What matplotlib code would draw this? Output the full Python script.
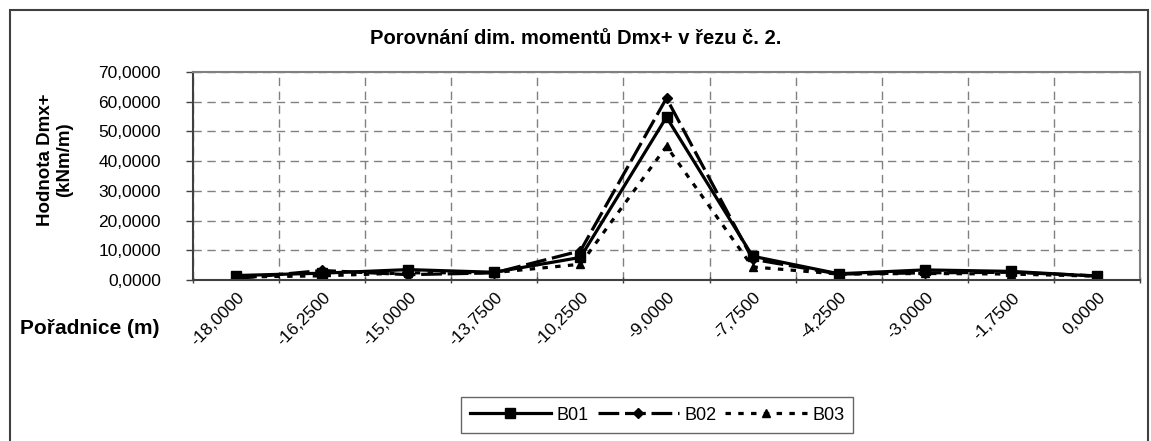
import numpy as np
import matplotlib.pyplot as plt
import matplotlib.transforms as mtransforms
from matplotlib.patches import Rectangle

plt.rcParams['font.family'] = ['Liberation Sans', 'DejaVu Sans']

# data (kNm/m)
poradnice = ['-18,0000', '-16,2500', '-15,0000', '-13,7500', '-10,2500', '-9,0000',
             '-7,7500', '-4,2500', '-3,0000', '-1,7500', '0,0000']
b01 = [1.5, 2.3, 3.5, 2.6, 7.6, 54.8, 8.0, 2.1, 3.4, 2.9, 1.3]
b02 = [0.5, 3.2, 1.8, 2.4, 9.8, 61.2, 7.0, 2.0, 2.4, 2.6, 1.4]
b03 = [1.0, 1.4, 2.4, 2.5, 5.3, 45.0, 4.4, 2.0, 2.2, 2.0, 1.3]

fig = plt.figure(figsize=(11.51, 4.41), dpi=100)
W, H = 1151, 441
# plot area in pixels: x 193..1140, y 72..280
ax = fig.add_axes([193 / W, 1 - 280 / H, (1140 - 193) / W, (280 - 72) / H])

# outer chart border
fig.patches.append(Rectangle((10 / W, -0.1), (1148 - 10) / W, 1.1 - 10 / H,
                             transform=fig.transFigure, fill=False,
                             edgecolor='#404040', linewidth=1.5))

x = np.arange(len(poradnice))
ax.plot(x, b01, color='black', lw=2.3, marker='s', ms=6.5, label='B01')
ax.plot(x, b02, color='black', lw=2.3, marker='D', ms=5, dashes=(6.5, 1.8), label='B02')
ax.plot(x, b03, color='black', lw=2.3, marker='^', ms=6, dashes=(1.7, 2.3), label='B03')

ax.set_xlim(-0.5, len(poradnice) - 0.5)
ax.set_ylim(0, 70)
ax.set_yticks(np.arange(0, 71, 10))
ax.set_yticklabels(['{:.4f}'.format(v).replace('.', ',') for v in np.arange(0, 71, 10)],
                   fontsize=12.5)

# category axis: ticks between categories, labels at the centres
ax.set_xticks(np.arange(-0.5, len(poradnice), 1.0))
ax.set_xticklabels([])
ax.set_xticks(x, minor=True)
ax.set_xticklabels(poradnice, minor=True, rotation=45, ha='right', va='center',
                   rotation_mode='anchor', fontsize=12.5)
ax.tick_params(axis='x', which='minor', length=0, pad=11)
ax.tick_params(axis='x', which='major', length=5, direction='inout', width=1, color='#404040')
ax.tick_params(axis='y', length=5, direction='out', width=1, color='#404040', pad=18)

# nudge the rotated labels a few pixels right, like the original
shift = mtransforms.ScaledTranslation(6 / 100, 0, fig.dpi_scale_trans)
for lbl in ax.get_xticklabels(minor=True):
    lbl.set_transform(lbl.get_transform() + shift)

ax.grid(True, which='major', color='#808080', linestyle=(0, (6, 4)), linewidth=1)
for s in ['top', 'right']:
    ax.spines[s].set_color('#808080')
    ax.spines[s].set_linewidth(1.5)
for s in ['left', 'bottom']:
    ax.spines[s].set_color('#404040')
    ax.spines[s].set_linewidth(1.5)

fig.text(0.5, 1 - 38 / H, 'Porovnání dim. momentů Dmx+ v řezu č. 2.', ha='center',
         va='center', fontsize=14.5, fontweight='bold')
fig.text(20 / W, 1 - 328 / H, 'Pořadnice (m)', ha='left', va='center',
         fontsize=15, fontweight='bold')
fig.text(55 / W, 1 - 160 / H, 'Hodnota Dmx+\n(kNm/m)', ha='center', va='center',
         rotation=90, fontsize=13.5, fontweight='bold', linespacing=1.1)

leg = fig.legend(loc='center', bbox_to_anchor=(657 / W, 1 - 415 / H), ncol=3,
                 fontsize=13, frameon=True, fancybox=False, edgecolor='#404040',
                 handlelength=4.5, columnspacing=0.5, handletextpad=0.3,
                 borderpad=0.5)
leg.get_frame().set_linewidth(1)

fig.savefig('out.png', dpi=100)
